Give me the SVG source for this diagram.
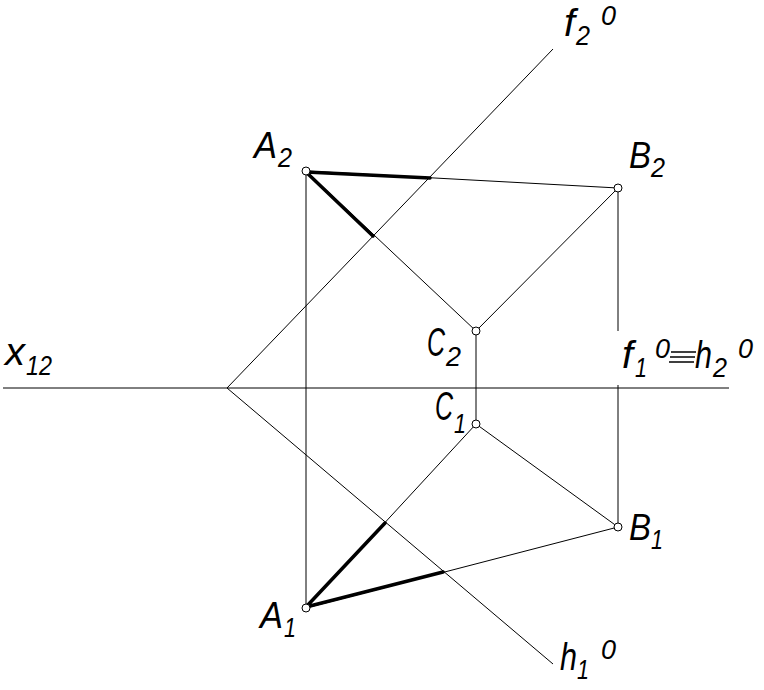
<svg xmlns="http://www.w3.org/2000/svg" width="764" height="690" viewBox="0 0 764 690">
<style>
.t{fill:none;stroke:#000;stroke-width:1}
.b{fill:none;stroke:#000;stroke-width:3.5;stroke-linecap:round}
.p{fill:#fff;stroke:#000;stroke-width:1}
text{font-family:"Liberation Sans",Arial,sans-serif;font-style:italic;fill:#000}
.l{font-size:36px}
.c{font-size:40px}
.m{font-size:39px}
.s{font-size:27px}
.o{font-size:28px}
</style>
<rect width="764" height="690" fill="#fff"/>
<g id="connectors">
<path class="t" d="M3 388H729M227 388L553 49M227 388L553 664M306 171V608M306 171L618 188M306 171L476 331M618 188L476 331M476 331V424M476 424L618 527M476 424L306 608M306 608L618 527M618 188V331M618 385V527"/>
<path class="b" d="M306 172L430 178M306 172L373 236M306 607L385 523M306 607L443 572"/>
</g>
<g id="A2"><circle class="p" cx="306" cy="171" r="4"/><text class="l" x="254" y="158" textLength="23" lengthAdjust="spacingAndGlyphs">A</text><text class="s" x="278" y="167" textLength="14" lengthAdjust="spacingAndGlyphs">2</text></g>
<g id="B2"><circle class="p" cx="618" cy="188" r="4"/><text class="l" x="629" y="168" textLength="22" lengthAdjust="spacingAndGlyphs">B</text><text class="s" x="651" y="177" textLength="14" lengthAdjust="spacingAndGlyphs">2</text></g>
<g id="C2"><circle class="p" cx="476" cy="331" r="4"/><text class="c" x="427" y="356" textLength="18" lengthAdjust="spacingAndGlyphs">C</text><text class="s" x="446" y="366" textLength="15" lengthAdjust="spacingAndGlyphs">2</text></g>
<g id="C1"><circle class="p" cx="476" cy="424" r="4"/><text class="c" x="435" y="420" textLength="18" lengthAdjust="spacingAndGlyphs">C</text><text class="s" x="454" y="433" textLength="12" lengthAdjust="spacingAndGlyphs">1</text></g>
<g id="B1"><circle class="p" cx="618" cy="527" r="4"/><text class="l" x="629" y="540" textLength="22" lengthAdjust="spacingAndGlyphs">B</text><text class="s" x="651" y="549" textLength="12" lengthAdjust="spacingAndGlyphs">1</text></g>
<g id="A1"><circle class="p" cx="306" cy="608" r="4"/><text class="l" x="260" y="628" textLength="23" lengthAdjust="spacingAndGlyphs">A</text><text class="s" x="284" y="637" textLength="12" lengthAdjust="spacingAndGlyphs">1</text></g>
<g id="x12"><text class="m" x="5" y="365" textLength="20" lengthAdjust="spacingAndGlyphs">x</text><text class="s" x="26" y="375" textLength="26" lengthAdjust="spacingAndGlyphs">12</text></g>
<g id="f2"><text class="m" x="564" y="36" textLength="11" lengthAdjust="spacingAndGlyphs">f</text><text class="s" x="576" y="45" textLength="14" lengthAdjust="spacingAndGlyphs">2</text><text class="o" x="601" y="25" textLength="15" lengthAdjust="spacingAndGlyphs">0</text></g>
<g id="h1"><text class="m" x="560" y="670" textLength="17" lengthAdjust="spacingAndGlyphs">h</text><text class="s" x="577" y="679" textLength="12" lengthAdjust="spacingAndGlyphs">1</text><text class="o" x="601" y="659" textLength="15" lengthAdjust="spacingAndGlyphs">0</text></g>
<g id="f1h2"><text class="m" x="622" y="368" textLength="11" lengthAdjust="spacingAndGlyphs">f</text><text class="s" x="635" y="377" textLength="12" lengthAdjust="spacingAndGlyphs">1</text><text class="o" x="655" y="358" textLength="15" lengthAdjust="spacingAndGlyphs">0</text><path class="t" d="M671 352H696M670 357H695M669 362H694" style="stroke-width:1.5"/><text class="m" x="695" y="368" textLength="17" lengthAdjust="spacingAndGlyphs">h</text><text class="s" x="713" y="377" textLength="14" lengthAdjust="spacingAndGlyphs">2</text><text class="o" x="738" y="358" textLength="15" lengthAdjust="spacingAndGlyphs">0</text></g>
</svg>
